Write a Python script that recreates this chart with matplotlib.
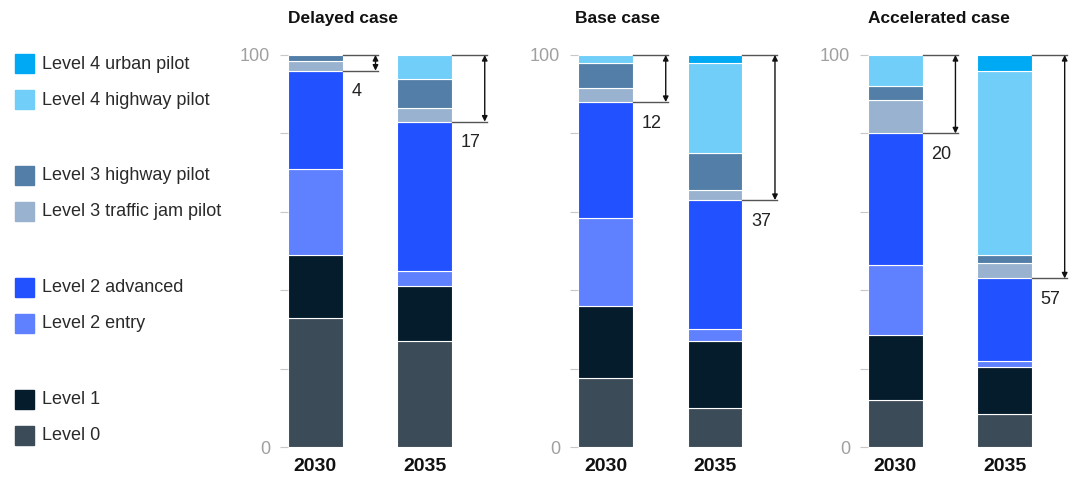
import matplotlib.pyplot as plt
from matplotlib.patches import Rectangle

plt.rcParams["font.family"] = ["Liberation Sans", "DejaVu Sans"]

# levels, bottom of the stack first
levels = [
    "Level 0",
    "Level 1",
    "Level 2 entry",
    "Level 2 advanced",
    "Level 3 traffic jam pilot",
    "Level 3 highway pilot",
    "Level 4 highway pilot",
    "Level 4 urban pilot",
]
colors = ["#3C4B58", "#051C2C", "#6081FF", "#2251FF",
          "#99B2CF", "#527EA8", "#70CEF8", "#00A9F4"]

years = ["2030", "2035"]
cases = ["Delayed case", "Base case", "Accelerated case"]

# share of sales (%) per level, 2030 and 2035
delayed = [[33, 16, 22, 25, 2.5, 1.5, 0, 0],
           [27, 14, 4, 38, 3.5, 7.5, 6, 0]]
base = [[17.5, 18.5, 22.5, 29.5, 3.5, 6.5, 2, 0],
        [10, 17, 3, 33, 2.5, 9.5, 23, 2]]
accelerated = [[12, 16.5, 18, 33.5, 8.5, 3.5, 8, 0],
               [8.5, 12, 1.5, 21, 4, 2, 47, 4]]
case_data = [delayed, base, accelerated]

fig = plt.figure(figsize=(10.71, 4.79), dpi=100)

# legend, drawn in pixel-like units
lax = fig.add_axes([0, 0, 0.23, 1])
lax.set_xlim(0, 0.23 * 1071)
lax.set_ylim(479, 0)
lax.axis("off")
legend_order = [7, 6, None, 5, 4, None, 3, 2, None, 1, 0]
y = 64
for idx in legend_order:
    if idx is None:
        y += 40
        continue
    lax.add_patch(Rectangle((15, y - 10), 19, 19, color=colors[idx]))
    lax.text(42, y, levels[idx], va="center", ha="left", fontsize=13, color="#2a2a2a")
    y += 36

lefts = [0.269, 0.540, 0.8105]
for k, (case, data) in enumerate(zip(cases, case_data)):
    ax = fig.add_axes([lefts[k], 0.0668, 0.153, 0.8184])
    for i, vals in enumerate(data):
        bottom = 0
        for v, c in zip(vals, colors):
            if v > 0:
                ax.bar(i, v, bottom=bottom, width=0.5, color=c,
                       edgecolor="white", linewidth=0.8)
            bottom += v
        # bracket for level 3+ share
        share = sum(vals[4:])
        lo = 100 - share
        x0, x1 = i + 0.25, i + 0.57
        for yy in (100, lo):
            ax.plot([x0, x1], [yy, yy], color="#555555", lw=1, clip_on=False)
        ax.annotate("", xy=(x1 - 0.02, 100), xytext=(x1 - 0.02, lo),
                    arrowprops=dict(arrowstyle="<|-|>", color="#111111", lw=1,
                                    mutation_scale=8, shrinkA=0, shrinkB=0),
                    annotation_clip=False)
        ax.annotate(f"{share:.0f}", xy=(i + 0.33, lo), xytext=(0, -21),
                    textcoords="offset pixels",
                    ha="left", va="center", fontsize=13, color="#222222",
                    annotation_clip=False)

    ax.set_xlim(-0.25, 1.25)
    ax.set_ylim(0, 100)
    ax.set_xticks([0, 1])
    ax.set_xticklabels(years, fontsize=14, fontweight="bold", color="#111111")
    ax.tick_params(axis="x", length=0, pad=8)
    ax.set_yticks([0, 20, 40, 60, 80, 100])
    ax.set_yticklabels(["0", "", "", "", "", "100"], fontsize=13, color="#A0A0A0")
    ax.tick_params(axis="y", length=6, color="#C8C8C8", pad=7)
    for s in ax.spines.values():
        s.set_visible(False)
    ax.set_title(case, loc="left", fontsize=12.5, fontweight="bold",
                 color="#111111", pad=23, x=-0.02 if k == 1 else 0)

fig.savefig("out.png", dpi=100)
